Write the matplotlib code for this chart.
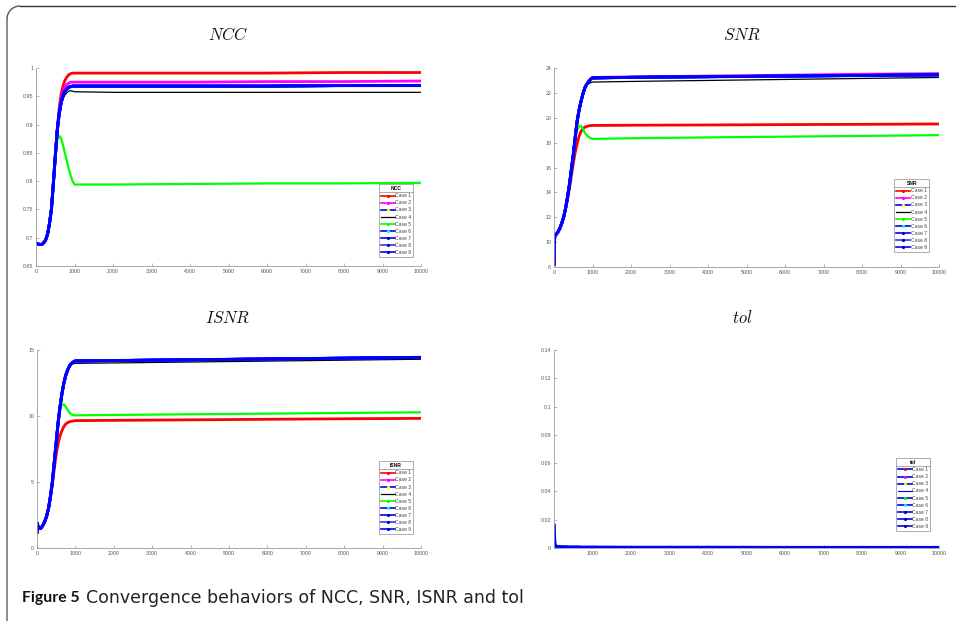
import matplotlib
matplotlib.use("Agg")
import matplotlib.pyplot as plt
from matplotlib.lines import Line2D
from matplotlib.patches import Arc
from matplotlib.transforms import IdentityTransform

# ---------------- data ----------------
iters = [0, 10, 20, 50, 100, 150, 200, 250, 300, 350, 400, 450, 500, 550, 600,
         650, 700, 750, 800, 850, 900, 950, 1000, 2000, 4000, 6000, 8000, 10000]

case_labels = ["Case 1", "Case 2", "Case 3", "Case 4", "Case 5",
               "Case 6", "Case 7", "Case 8", "Case 9"]

# NCC
ncc_blue = [0.690, 0.690, 0.690, 0.689, 0.688, 0.688, 0.691, 0.696, 0.706, 0.725, 0.750, 0.795, 0.843, 0.888,
            0.918, 0.938, 0.951, 0.959, 0.963, 0.966, 0.967, 0.968, 0.968, 0.968, 0.968, 0.968, 0.969, 0.969]
ncc_red = [0.690, 0.690, 0.690, 0.689, 0.688, 0.688, 0.691, 0.696, 0.706, 0.725, 0.750, 0.795, 0.843, 0.890,
           0.928, 0.953, 0.968, 0.978, 0.984, 0.988, 0.990, 0.991, 0.991, 0.991, 0.991, 0.991, 0.992, 0.992]
ncc_magenta = [0.690, 0.690, 0.690, 0.689, 0.688, 0.688, 0.691, 0.696, 0.706, 0.725, 0.750, 0.795, 0.843, 0.889,
               0.922, 0.945, 0.958, 0.966, 0.971, 0.973, 0.975, 0.975, 0.975, 0.975, 0.975, 0.976, 0.976, 0.977]
ncc_black = [0.690, 0.690, 0.690, 0.689, 0.688, 0.688, 0.691, 0.696, 0.706, 0.725, 0.750, 0.795, 0.843, 0.886,
             0.914, 0.933, 0.945, 0.952, 0.956, 0.959, 0.960, 0.959, 0.958, 0.957, 0.957, 0.957, 0.957, 0.957]
ncc_green = [0.690, 0.690, 0.690, 0.689, 0.688, 0.688, 0.691, 0.696, 0.706, 0.725, 0.750, 0.795, 0.843, 0.872,
             0.880, 0.876, 0.864, 0.850, 0.836, 0.822, 0.810, 0.800, 0.794, 0.794, 0.795, 0.796, 0.796, 0.797]

# SNR
snr_blue = [8.2, 9.9, 10.5, 10.6, 10.8, 11.1, 11.5, 12.0, 12.7, 13.6, 14.6, 15.8, 17.0, 18.4,
            19.7, 20.6, 21.3, 21.9, 22.4, 22.7, 22.9, 23.1, 23.2, 23.25, 23.3, 23.35, 23.4, 23.45]
snr_magenta = [8.2, 9.9, 10.5, 10.6, 10.8, 11.1, 11.5, 12.0, 12.7, 13.6, 14.6, 15.8, 17.0, 18.4,
               19.7, 20.6, 21.3, 21.9, 22.4, 22.7, 22.9, 23.1, 23.25, 23.28, 23.35, 23.42, 23.5, 23.55]
snr_red = [8.2, 9.9, 10.5, 10.6, 10.8, 11.1, 11.5, 12.0, 12.7, 13.4, 14.3, 15.3, 16.3, 17.2,
           17.9, 18.5, 18.9, 19.1, 19.25, 19.3, 19.35, 19.37, 19.38, 19.4, 19.42, 19.45, 19.47, 19.5]
snr_black = [8.2, 9.9, 10.5, 10.6, 10.8, 11.1, 11.5, 12.0, 12.7, 13.6, 14.6, 15.8, 17.0, 18.4,
             19.7, 20.6, 21.3, 21.9, 22.3, 22.6, 22.75, 22.82, 22.87, 22.92, 23.0, 23.08, 23.16, 23.24]
snr_green = [8.2, 9.9, 10.5, 10.6, 10.8, 11.1, 11.5, 12.0, 12.7, 13.6, 14.6, 15.8, 17.0, 18.4,
             19.0, 19.3, 19.35, 19.1, 18.8, 18.6, 18.45, 18.35, 18.3, 18.35, 18.42, 18.48, 18.54, 18.6]

# ISNR
isnr_blue = [1.2, 1.85, 1.7, 1.5, 1.5, 1.7, 2.0, 2.4, 3.0, 3.9, 5.0, 6.5, 8.0, 9.5,
             10.7, 11.7, 12.5, 13.1, 13.5, 13.8, 14.0, 14.1, 14.17, 14.2, 14.26, 14.32, 14.38, 14.44]
isnr_red = [1.2, 1.85, 1.7, 1.5, 1.5, 1.7, 2.0, 2.4, 3.0, 3.9, 4.8, 6.0, 7.1, 7.9,
            8.5, 8.9, 9.2, 9.4, 9.5, 9.57, 9.6, 9.63, 9.65, 9.67, 9.71, 9.75, 9.79, 9.82]
isnr_black = [1.2, 1.85, 1.7, 1.5, 1.5, 1.7, 2.0, 2.4, 3.0, 3.9, 5.0, 6.5, 8.0, 9.5,
              10.7, 11.7, 12.5, 13.1, 13.5, 13.75, 13.9, 13.96, 13.99, 14.02, 14.09, 14.16, 14.23, 14.3]
isnr_green = [1.2, 1.85, 1.7, 1.5, 1.5, 1.7, 2.0, 2.4, 3.0, 3.9, 5.0, 6.5, 8.0, 9.5,
              10.5, 10.85, 10.88, 10.7, 10.45, 10.25, 10.12, 10.07, 10.05, 10.08, 10.13, 10.18, 10.23, 10.28]

# tol
tol_vals = [0.016, 0.008, 0.003, 0.0012, 0.0009, 0.0008, 0.0008, 0.0007, 0.0007, 0.0007, 0.0006, 0.0006,
            0.0006, 0.0006, 0.0006, 0.0006, 0.0005, 0.0005, 0.0005, 0.0005, 0.0005, 0.0005, 0.0005,
            0.0004, 0.0004, 0.0003, 0.0003, 0.0003]

ncc_series = [ncc_red, ncc_magenta, ncc_blue, ncc_black, ncc_green, ncc_blue, ncc_blue, ncc_blue, ncc_blue]
snr_series = [snr_red, snr_magenta, snr_blue, snr_black, snr_green, snr_blue, snr_blue, snr_blue, snr_blue]
isnr_series = [isnr_red, isnr_blue, isnr_blue, isnr_black, isnr_green, isnr_blue, isnr_blue, isnr_blue, isnr_blue]
tol_series = [tol_vals] * 9

# ---------------- styles ----------------
line_colors = ["#ff0000", "#ff00ff", "#0000ff", "#000000", "#00ff00",
               "#0000ff", "#0000ff", "#3333ff", "#0000ff"]
line_widths = [2.0, 2.0, 2.0, 0.9, 1.6, 2.0, 2.0, 2.0, 2.2]
marker_colors = ["#ff0000", "#ff00ff", "#ffff00", None, "#00ff00",
                 "#00ffff", "#0000aa", "#0000aa", "#0000aa"]
tol_marker_colors = ["#ff0000", "#ff00ff", "#ffff00", None, "#00ff00",
                     "#00ffff", "#0000aa", "#0000aa", "#0000aa"]

W, H = 956, 621
fig = plt.figure(figsize=(W / 100, H / 100), dpi=100)
fig.patch.set_facecolor("white")
plt.rcParams["mathtext.fontset"] = "cm"


def px_axes(left, right, top, bottom):
    return fig.add_axes([left / W, (H - bottom) / H, (right - left) / W, (bottom - top) / H])


def style_axes(ax, yticks, ylabels, xticks, xlabels, ylim):
    ax.set_xlim(0, 10000)
    ax.set_ylim(*ylim)
    ax.set_yticks(yticks)
    ax.set_yticklabels(ylabels)
    ax.set_xticks(xticks)
    ax.set_xticklabels(xlabels)
    for s in ["top", "right"]:
        ax.spines[s].set_visible(False)
    for s in ["left", "bottom"]:
        ax.spines[s].set_color("#9a9a9a")
        ax.spines[s].set_linewidth(0.6)
    ax.tick_params(axis="both", direction="in", length=2.5, width=0.5, color="#9a9a9a",
                   labelsize=3.8, labelcolor="#555555", pad=2)
    for lab in ax.get_xticklabels() + ax.get_yticklabels():
        lab.set_fontfamily("Liberation Sans")


legends = []


def add_legend(ax, title, anchor, line_cols, line_ws, mk_cols):
    handles = []
    for i in range(9):
        mc = mk_cols[i]
        h = Line2D([], [], color=line_cols[i], lw=min(line_ws[i], 1.2),
                   marker="." if mc else None, markersize=2.5,
                   markerfacecolor=mc, markeredgecolor=mc)
        handles.append(h)
    leg = ax.legend(handles, case_labels, title=title, loc="lower right",
                    bbox_to_anchor=anchor, borderaxespad=0, fontsize=3.6,
                    title_fontproperties={"weight": "bold", "size": 3.6, "family": "Liberation Sans"},
                    prop={"family": "Liberation Sans", "size": 3.6},
                    handlelength=2.8, handletextpad=0.1, labelspacing=0.42,
                    borderpad=0.4, fancybox=False, frameon=True, numpoints=1)
    leg.get_frame().set_edgecolor("#888888")
    leg.get_frame().set_linewidth(0.6)
    for t in leg.get_texts():
        t.set_color("#444444")
    legends.append(leg)
    return leg


xt = list(range(0, 10001, 1000))
xl = [str(v) for v in xt]

# NCC
ax1 = px_axes(36, 421, 68, 266)
for i in range(9):
    ax1.plot(iters, ncc_series[i], color=line_colors[i], lw=line_widths[i], solid_capstyle="butt")
ncc_ticks = [0.65, 0.7, 0.75, 0.8, 0.85, 0.9, 0.95, 1.0]
style_axes(ax1, ncc_ticks, ["0.65", "0.7", "0.75", "0.8", "0.85", "0.9", "0.95", "1"],
           xt, xl, (0.65, 1.0))
add_legend(ax1, "NCC", (0.98, 0.045), line_colors, line_widths, marker_colors)

# SNR
ax2 = px_axes(554, 939, 68, 267)
for i in range(9):
    ax2.plot(iters, snr_series[i], color=line_colors[i], lw=line_widths[i])
snr_ticks = [8, 10, 12, 14, 16, 18, 20, 22, 24]
style_axes(ax2, snr_ticks, [str(v) for v in snr_ticks], xt, xl, (8, 24))
add_legend(ax2, "SNR", (0.974, 0.075), line_colors, line_widths, marker_colors)

# ISNR
ax3 = px_axes(37, 421, 350, 548)
for i in range(9):
    ax3.plot(iters, isnr_series[i], color=line_colors[i], lw=line_widths[i])
isnr_ticks = [0, 5, 10, 15]
style_axes(ax3, isnr_ticks, [str(v) for v in isnr_ticks], xt, xl, (0, 15))
add_legend(ax3, "ISNR", (0.98, 0.07), line_colors, line_widths, marker_colors)

# tol
ax4 = px_axes(554, 939, 350, 548)
tol_line_ws = [1.2, 1.2, 1.2, 0.8, 2.0, 1.2, 1.2, 1.2, 2.4]
for i in range(9):
    ax4.plot(iters, tol_series[i], color="#0000ff", lw=tol_line_ws[i])
tol_ticks = [0, 0.02, 0.04, 0.06, 0.08, 0.1, 0.12, 0.14]
style_axes(ax4, tol_ticks, ["0", "0.02", "0.04", "0.06", "0.08", "0.1", "0.12", "0.14"],
           xt[1:], xl[1:], (0, 0.14))
add_legend(ax4, "tol", (0.977, 0.086), ["#0000ff"] * 9, tol_line_ws, tol_marker_colors)

# titles
title_kw = dict(ha="center", va="center", fontsize=12, color="#111111")
fig.text(228 / W, 1 - 35 / H, r"$NCC$", **title_kw)
fig.text(742 / W, 1 - 35 / H, r"$SNR$", **title_kw)
fig.text(228 / W, 1 - 318 / H, r"$ISNR$", **title_kw)
fig.text(742 / W, 1 - 318 / H, r"$tol$", **title_kw)

# outer frame: top edge, left edge and the rounded corner (pixel coordinates)
R = 13
top_y = H - 6
left_x = 7
ident = IdentityTransform()
fig.add_artist(Line2D([left_x + R, W + 5], [top_y, top_y], transform=ident,
                      color="#333333", lw=1.0))
fig.add_artist(Line2D([left_x, left_x], [top_y - R, -5], transform=ident,
                      color="#777777", lw=1.2))
fig.add_artist(Arc((left_x + R, top_y - R), 2 * R, 2 * R, theta1=90, theta2=180,
                   transform=ident, color="#555555", lw=1.0))

# caption
cap_y = 1 - 598 / H
t1 = fig.text(22 / W, cap_y, "Figure 5", fontsize=12.0, fontweight="bold",
              family="Lato", va="center", ha="left", color="#111111")
cap_text = "Convergence behaviors of NCC, SNR, ISNR and tol"
t2 = fig.text(86 / W, cap_y, cap_text, fontsize=11.5,
              family="DejaVu Sans", va="center", ha="left", color="#222222")
fig.canvas.draw()
w1 = t1.get_window_extent().width
t1.set_fontsize(12.0 * 57.0 / w1)
w2 = t2.get_window_extent().width
t2.set_fontsize(11.5 * 438.0 / w2)

# separator line under each legend title
fig.canvas.draw()
for leg in legends:
    fb = leg.get_frame().get_window_extent()
    tb = leg.get_title().get_window_extent()
    yline = tb.y0 - 0.8
    fig.add_artist(Line2D([fb.x0, fb.x1], [yline, yline], transform=ident,
                          color="#888888", lw=0.5))

fig.savefig("out.png", dpi=100)
